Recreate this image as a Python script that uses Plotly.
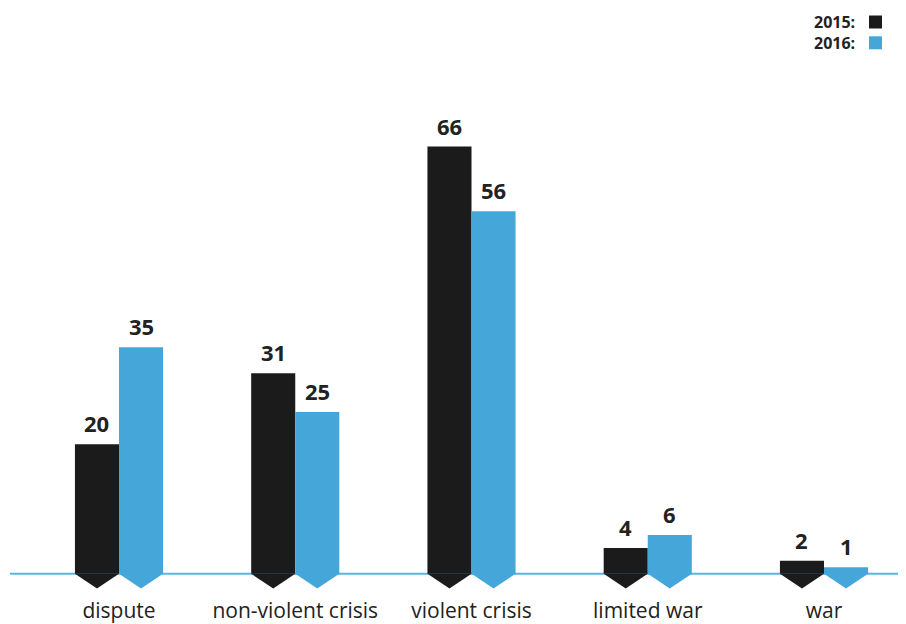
import plotly.graph_objects as go

categories = ["dispute", "non-violent crisis", "violent crisis", "limited war", "war"]
series_names = ["2015", "2016"]
values_2015 = [20, 31, 66, 4, 2]
values_2016 = [35, 25, 56, 6, 1]

colors = {"2015": "#1b1b1b", "2016": "#45a6da"}
W, H = 906, 624
OFF = 8  # page body margin offset
ML, MR, MT, MB = 10 - OFF, OFF, 56 - OFF, H - (590 - OFF)
PW, PH = W - ML - MR, H - MT - MB
BAR_W = 0.25
ARROW = 2.25
FONT = "Open Sans"

x_idx = list(range(len(categories)))
fig = go.Figure()

offsets = {"2015": -BAR_W, "2016": 0.0}
series = {"2015": values_2015, "2016": values_2016}

for name in series_names:
    vals = series[name]
    fig.add_trace(go.Bar(
        x=x_idx, y=vals, width=BAR_W, offset=offsets[name],
        marker=dict(color=colors[name], line=dict(width=0)),
        name=name, showlegend=False, hoverinfo="skip"))
    for xi, v in zip(x_idx, vals):
        x0 = xi + offsets[name]
        x1 = x0 + BAR_W
        fig.add_trace(go.Scatter(
            x=[x0, x1, (x0 + x1) / 2, x0], y=[0, 0, -ARROW, 0],
            mode="lines", fill="toself", fillcolor=colors[name],
            line=dict(width=0, color=colors[name]), showlegend=False,
            hoverinfo="skip"))
        fig.add_annotation(x=(x0 + x1) / 2, y=v, xref="x", yref="y",
                           text=f"<b>{v}</b>", showarrow=False,
                           yanchor="bottom", yshift=4,
                           font=dict(family=FONT, size=22, color="#222222"))

# baseline
fig.add_shape(type="line", xref="paper", yref="y", x0=0, x1=1, y0=0, y1=0,
              line=dict(color="#5ab4e5", width=2), layer="below")

# legend (custom, text left of swatch); screen pixel targets
def px_x(p):
    return (p - OFF - ML) / PW

def px_y(p):
    return (H - MB - (p - OFF)) / PH

legend_rows = [("2015", 22), ("2016", 42.8)]
fig.add_annotation(xref="paper", yref="paper", x=px_x(857), y=px_y(32.4),
                   xanchor="right", yanchor="middle", showarrow=False,
                   align="right",
                   text="<br>".join(f"<b>{n}:</b>" for n, _ in legend_rows),
                   font=dict(family=FONT, size=16, color="#222222"))
for name, cy in legend_rows:
    fig.add_shape(type="rect", xref="paper", yref="paper",
                  x0=px_x(869), x1=px_x(882), y0=px_y(cy + 6.5), y1=px_y(cy - 6.5),
                  fillcolor=colors[name], line=dict(width=0))

fig.update_layout(
    width=W, height=H, margin=dict(l=ML, r=MR, t=MT, b=MB),
    plot_bgcolor="white", paper_bgcolor="white", barmode="overlay",
    showlegend=False,
    xaxis=dict(range=[(10 - 119) / 176.25, (W - 119) / 176.25],
               tickmode="array", tickvals=x_idx, ticktext=categories,
               showgrid=False, zeroline=False, showline=False, ticks="",
               ticklabelstandoff=6,
               tickfont=dict(family=FONT, size=21, color="#222222")),
    yaxis=dict(range=[-2.5, 80], showgrid=False, zeroline=False,
               showticklabels=False, showline=False, ticks=""),
)

fig.write_html("out.html")
